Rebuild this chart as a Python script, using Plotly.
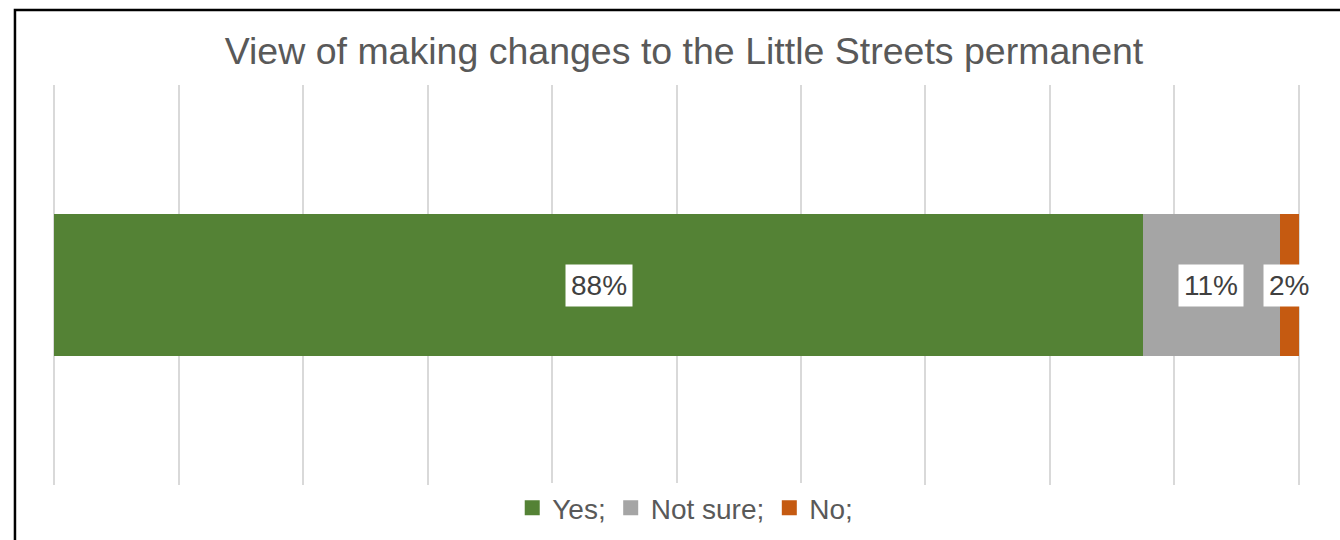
import plotly.graph_objects as go

categories = ["Yes;", "Not sure;", "No;"]
values = [87.5, 11.0, 1.5]
labels = ["88%", "11%", "2%"]
colors = ["#548235", "#A5A5A5", "#C55A11"]
row = ["View"]
x_ticks = list(range(0, 101, 10))

W, H = 1340, 540
M_T, M_B = 85, 0
paper_h = H - M_T - M_B
plot_bottom_px = 485


def py(px):
    """pixel y (from top) -> paper fraction"""
    return (H - M_B - px) / paper_h


fig = go.Figure()
for name, v, c in zip(categories, values, colors):
    fig.add_trace(go.Bar(
        x=[v], y=row, orientation="h", name=name,
        marker=dict(color=c, line=dict(width=0)),
        showlegend=False, hoverinfo="skip",
    ))
# legend entries
for name, c in zip(categories, colors):
    fig.add_trace(go.Scatter(
        x=[None], y=[None], mode="markers", name=name,
        marker=dict(symbol="square", size=15, color=c),
    ))

cum = 0
for v, lab in zip(values, labels):
    fig.add_annotation(
        x=cum + v / 2, y=row[0], xref="x", yref="y", text=lab,
        showarrow=False, bgcolor="white", borderpad=5,
        font=dict(family="Liberation Sans, Arial, sans-serif", size=28, color="#404040"),
    )
    cum += v

fig.add_shape(type="rect", xref="paper", yref="paper",
              x0=-0.0305, x1=1.2, y0=-0.5, y1=py(10),
              line=dict(color="black", width=2.5), fillcolor="rgba(0,0,0,0)", layer="above")

fig.update_layout(
    width=W, height=H,
    margin=dict(l=53, r=40, t=M_T, b=M_B),
    paper_bgcolor="white", plot_bgcolor="white",
    barmode="stack", bargap=0.645,
    title=dict(text="View of making changes to the Little Streets permanent",
               x=0.506, xref="paper", xanchor="center", y=1 - 51 / 540, yanchor="middle",
               font=dict(family="Liberation Sans, Arial, sans-serif", size=37.5, color="#595959")),
    xaxis=dict(range=[-0.12, 100.12], tickvals=x_ticks, showticklabels=False, showgrid=True,
               gridcolor="#D9D9D9", gridwidth=2, zeroline=False, showline=False, ticks=""),
    yaxis=dict(showticklabels=False, showgrid=False, zeroline=False, showline=False,
               range=[-0.5, 0.5], domain=[py(plot_bottom_px), 1]),
    legend=dict(orientation="h", traceorder="normal", x=0.507, xanchor="center",
                y=py(508), yanchor="middle",
                font=dict(family="Liberation Sans, Arial, sans-serif", size=28, color="#595959"),
                itemclick=False, itemdoubleclick=False),
    showlegend=True,
)
fig.write_html("out.html")
